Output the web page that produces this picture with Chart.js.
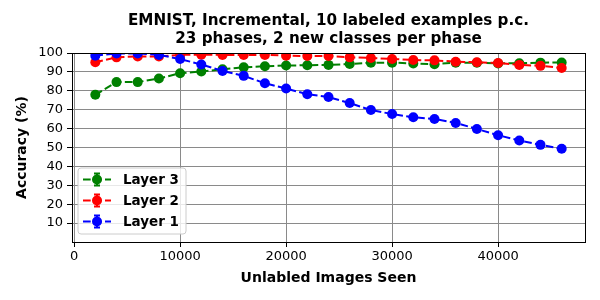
<!DOCTYPE html>
<html>
<head>
<meta charset="utf-8">
<script src="https://cdn.jsdelivr.net/npm/chart.js@4.4.1/dist/chart.umd.min.js"></script>
<style>
  html, body { margin: 0; padding: 0; background: #fff; }
  #wrap { width: 600px; height: 300px; }
</style>
</head>
<body>
<div id="wrap"><canvas id="c" width="600" height="300"></canvas></div>
<script>
const titleLines = ["EMNIST, Incremental, 10 labeled examples p.c.", "23 phases, 2 new classes per phase"];
const xLabel = "Unlabled Images Seen";
const yLabel = "Accuracy (%)";
const imagesSeen = [2000, 4000, 6000, 8000, 10000, 12000, 14000, 16000, 18000, 20000, 22000, 24000,
                    26000, 28000, 30000, 32000, 34000, 36000, 38000, 40000, 42000, 44000, 46000];
const layer3 = [77.9, 84.6, 84.6, 86.5, 89.3, 90.2, 91.4, 92.4, 93.0, 93.4, 93.5, 93.7,
                94.2, 94.8, 94.9, 94.5, 94.1, 94.9, 94.9, 94.5, 94.6, 94.9, 95.0];
const layer2 = [95.1, 97.7, 98.2, 98.2, 99.0, 99.1, 99.0, 99.0, 99.0, 98.6, 98.4, 98.4,
                97.7, 97.4, 96.8, 96.3, 96.1, 95.4, 95.1, 94.7, 93.7, 93.2, 92.1];
const layer1 = [98.6, 99.8, 99.8, 99.0, 96.8, 93.9, 90.5, 87.9, 84.0, 81.2, 78.2, 76.7,
                73.5, 69.8, 67.7, 66.0, 65.1, 63.0, 59.8, 56.5, 53.7, 51.4, 49.3];
const seriesNames = ["Layer 3", "Layer 2", "Layer 1"];
const xTicks = [0, 10000, 20000, 30000, 40000];
const yTicks = [10, 20, 30, 40, 50, 60, 70, 80, 90, 100];

const colors = ["#008000", "#ff0000", "#0000ff"];
const FONT = "'DejaVu Sans', sans-serif";

function pts(vals) { return vals.map((v, i) => ({x: imagesSeen[i], y: v})); }
const seriesVals = [layer3, layer2, layer1];

const datasets = seriesVals.map((vals, i) => ({
  label: seriesNames[i],
  data: pts(vals),
  borderColor: colors[i],
  backgroundColor: colors[i],
  pointBackgroundColor: colors[i],
  pointBorderColor: colors[i],
  pointRadius: 5,
  pointBorderWidth: 0,
  borderWidth: 2,
  borderDash: [7.7, 3.3],
  tension: 0,
  order: 3 - i
}));

const extras = {
  id: 'extras',
  afterDatasetsDraw(chart) {
    const ctx = chart.ctx;
    const a = chart.chartArea;
    ctx.save();
    ctx.strokeStyle = '#000';
    ctx.lineWidth = 1;
    ctx.strokeRect(Math.round(a.left) + 0.5, Math.round(a.top) + 0.5, Math.round(a.right - a.left), Math.round(a.bottom - a.top));
    const bx = 78, by = 168, bw = 108, bh = 66, r = 3;
    ctx.fillStyle = 'rgba(255,255,255,0.8)';
    ctx.strokeStyle = '#cccccc';
    ctx.beginPath();
    ctx.moveTo(bx + r, by);
    ctx.arcTo(bx + bw, by, bx + bw, by + bh, r);
    ctx.arcTo(bx + bw, by + bh, bx, by + bh, r);
    ctx.arcTo(bx, by + bh, bx, by, r);
    ctx.arcTo(bx, by, bx + bw, by, r);
    ctx.closePath();
    ctx.fill();
    ctx.stroke();
    chart.data.datasets.forEach((ds, i) => {
      const cy = 179.5 + i * 21;
      ctx.strokeStyle = ds.borderColor;
      ctx.fillStyle = ds.borderColor;
      ctx.lineWidth = 2;
      ctx.setLineDash([7.7, 3.3]);
      ctx.beginPath();
      ctx.moveTo(83, cy);
      ctx.lineTo(111, cy);
      ctx.stroke();
      ctx.setLineDash([]);
      ctx.beginPath();
      ctx.moveTo(97, cy - 6); ctx.lineTo(97, cy + 6);
      ctx.moveTo(94, cy - 6); ctx.lineTo(100, cy - 6);
      ctx.moveTo(94, cy + 6); ctx.lineTo(100, cy + 6);
      ctx.stroke();
      ctx.beginPath();
      ctx.arc(97, cy, 5, 0, Math.PI * 2);
      ctx.fill();
      ctx.fillStyle = '#000';
      ctx.font = "bold 13.5px " + FONT;
      ctx.textAlign = 'left';
      ctx.textBaseline = 'middle';
      ctx.fillText(ds.label, 123, cy + 0.5);
    });
    ctx.fillStyle = '#000';
    ctx.font = "bold 15.2px " + FONT;
    ctx.textAlign = 'center';
    ctx.textBaseline = 'middle';
    const cx = (a.left + a.right) / 2;
    ctx.fillText(titleLines[0], cx, 21.5);
    ctx.fillText(titleLines[1], cx, 39);
    ctx.restore();
  }
};

new Chart(document.getElementById('c'), {
  type: 'line',
  data: { datasets },
  options: {
    responsive: false,
    animation: false,
    devicePixelRatio: 1,
    layout: { padding: { top: 53, right: 15, left: 0, bottom: 0 } },
    plugins: {
      legend: { display: false },
      title: { display: false },
      tooltip: { enabled: false }
    },
    scales: {
      x: {
        type: 'linear',
        min: -200,
        max: 48200,
        afterFit(s) { s.height = 58; },
        afterBuildTicks(s) { s.ticks = xTicks.map(v => ({value: v})); },
        grid: { color: '#8a8a8a', lineWidth: 1, tickColor: '#000', tickLength: 5, drawOnChartArea: true },
        border: { color: '#000', width: 1 },
        ticks: { color: '#000', font: { family: FONT, size: 13 }, padding: 2, maxRotation: 0, callback: v => String(v) },
        title: { display: true, text: xLabel, color: '#000', font: { family: FONT, size: 14, weight: 'bold' }, padding: { top: 13, bottom: 13 } }
      },
      y: {
        type: 'linear',
        min: 0,
        max: 100,
        afterFit(s) { s.width = 72; },
        afterBuildTicks(s) { s.ticks = yTicks.map(v => ({value: v})); },
        grid: { color: '#8a8a8a', lineWidth: 1, tickColor: '#000', tickLength: 5 },
        border: { color: '#000', width: 1 },
        ticks: { color: '#000', font: { family: FONT, size: 13 }, padding: 4, callback: v => String(v) },
        title: { display: true, text: yLabel, color: '#000', font: { family: FONT, size: 14, weight: 'bold' }, padding: { top: 14, bottom: 14 } }
      }
    }
  },
  plugins: [extras]
});
</script>
</body>
</html>
